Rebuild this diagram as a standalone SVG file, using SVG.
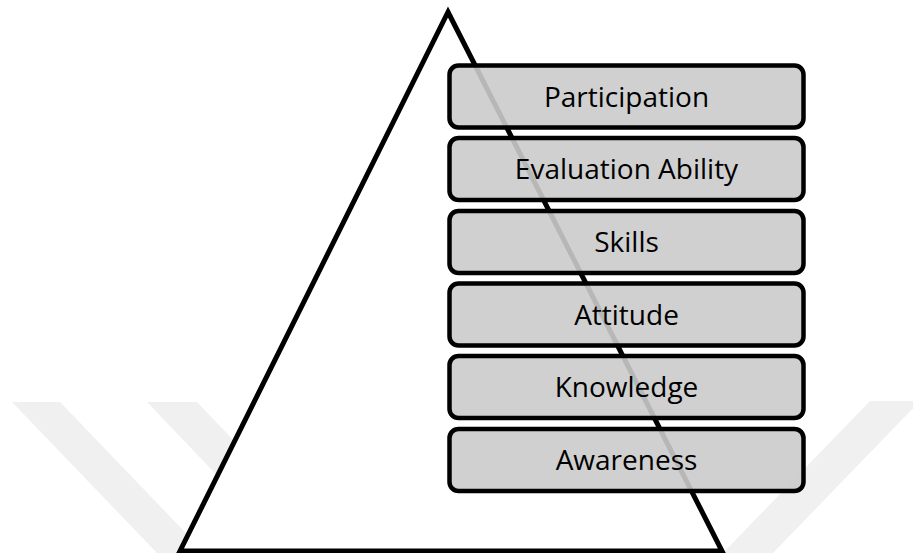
<svg xmlns="http://www.w3.org/2000/svg" width="913" height="553" viewBox="0 0 913 553">
  <style>
    .wm { fill: #f0f0f0; }
    .tri { fill: #fff; stroke: #000; stroke-width: 5; stroke-linejoin: miter; }
    .box { fill: rgb(203,203,203); fill-opacity: 0.9; stroke: #000; stroke-width: 4.5; }
    .lbl { font-family: "Open Sans", "Liberation Sans", sans-serif; font-size: 28px; fill: #000; text-anchor: middle; }
  </style>
  <rect width="913" height="553" fill="#fff"/>
  <g id="watermark">
    <polygon class="wm" points="12,402 60,402 205,553 157,553"/>
    <polygon class="wm" points="147,402 197,402 300,510 250,510"/>
    <polygon class="wm" points="870,401 920,401 773,553 723,553"/>
  </g>
  <g id="pyramid">
    <polygon class="tri" points="448,12 722,551 180,551"/>
  </g>
  <g id="participation">
    <rect class="box" x="449.5" y="65.5" width="354" height="62" rx="9"/>
    <text class="lbl" x="626.5" y="106.5">Participation</text>
  </g>
  <g id="evaluation-ability">
    <rect class="box" x="449.5" y="138" width="354" height="62" rx="9"/>
    <text class="lbl" x="626.5" y="179">Evaluation Ability</text>
  </g>
  <g id="skills">
    <rect class="box" x="449.5" y="211" width="354" height="62" rx="9"/>
    <text class="lbl" x="626.5" y="252">Skills</text>
  </g>
  <g id="attitude">
    <rect class="box" x="449.5" y="283.5" width="354" height="62" rx="9"/>
    <text class="lbl" x="626.5" y="324.5">Attitude</text>
  </g>
  <g id="knowledge">
    <rect class="box" x="449.5" y="356" width="354" height="62" rx="9"/>
    <text class="lbl" x="626.5" y="397">Knowledge</text>
  </g>
  <g id="awareness">
    <rect class="box" x="449.5" y="429" width="354" height="62" rx="9"/>
    <text class="lbl" x="626.5" y="470">Awareness</text>
  </g>
  <g id="connectors"></g>
</svg>
